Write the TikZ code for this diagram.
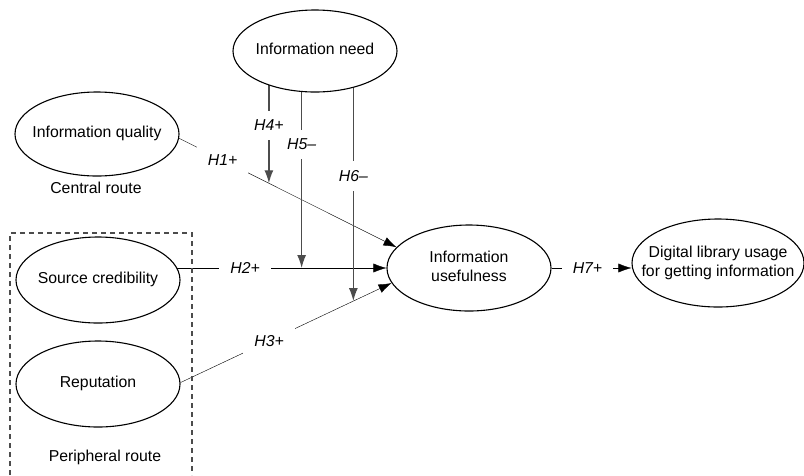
\documentclass[tikz,border=0pt]{standalone}
\usepackage{fontspec}
\setmainfont{Liberation Sans}
\usetikzlibrary{shapes.geometric,arrows.meta,backgrounds}

% Text that does not widen its ellipse.
\newcommand{\inside}[1]{\makebox[0pt][c]{\begin{tabular}{@{}c@{}}#1\end{tabular}}}

\begin{document}
\begin{tikzpicture}[x=1pt,y=-1pt,line width=1.2pt,
        font=\fontsize{15.8}{19}\selectfont,
        concept/.style={ellipse,draw,fill=white,inner sep=0pt,line width=1.1pt,
            minimum width=164pt,minimum height=86pt},
        hyp/.style={fill=white,inner xsep=11pt,inner ysep=9pt,font=\fontsize{15.8}{19}\selectfont\itshape},
        link/.style={-{Latex[length=13pt,width=9pt]}},
        moderator/.style={link,black!70,line width=1.4pt}]

        \useasboundingbox (0,0) rectangle (804,475);

        % Positions of all of the constructs.
        \node[concept,minimum height=82pt] (need) at (315, 51) {\inside{Information need}};
        \node[concept,minimum height=84pt] (qual) at (97, 134) {\inside{Information quality}};
        \node[concept] (cred) at (98, 280) {\inside{Source credibility}};
        \node[concept] (rep) at (98, 384) {\inside{Reputation}};
        \node[concept] (use) at (469, 268) {\inside{Information\\usefulness}};
        \node[concept,minimum width=172pt,minimum height=88pt] (lib) at (718, 263)
            {\inside{Digital library usage\\for getting information}};

        % Label the two routes.
        \node (central) at (96, 188) {Central route};
        \node (peripheral) at (105, 457) {Peripheral route};
        \draw[black!70,line width=1.1pt,dash pattern=on 5pt off 4pt] (10, 475) |- (192, 233) -- (192, 475);

        % Direct paths, behind the ellipses.
        \begin{scope}[on background layer]
            \draw[link] (qual.-3) -- node[hyp, pos=0.2] {H1+}
                coordinate[pos=0.413] (h4end) (use.164);
            \draw[link] (cred.center |- use.west) -- node[hyp, pos=0.51] {H2+}
                coordinate[pos=0.706] (h5end) (use.west);
            \draw[link] (rep.1) -- node[hyp, pos=0.42] {H3+}
                coordinate[pos=0.819] (h6end) (use.191);
            \draw[link] (use.east) -- node[hyp, pos=0.45] {H7+} (use.east -| lib.west);

            % Moderating paths from the information need.
            \draw[moderator] (h4end |- need.center) -- node[hyp, pos=0.56, text=black] {H4+} (h4end);
            \draw[moderator] (h5end |- need.center) -- node[hyp, pos=0.43, text=black] {H5--} (h5end);
            \draw[moderator] (h6end |- need.center) -- node[hyp, pos=0.5, text=black] {H6--} (h6end);
        \end{scope}
    \end{tikzpicture}
\end{document}
